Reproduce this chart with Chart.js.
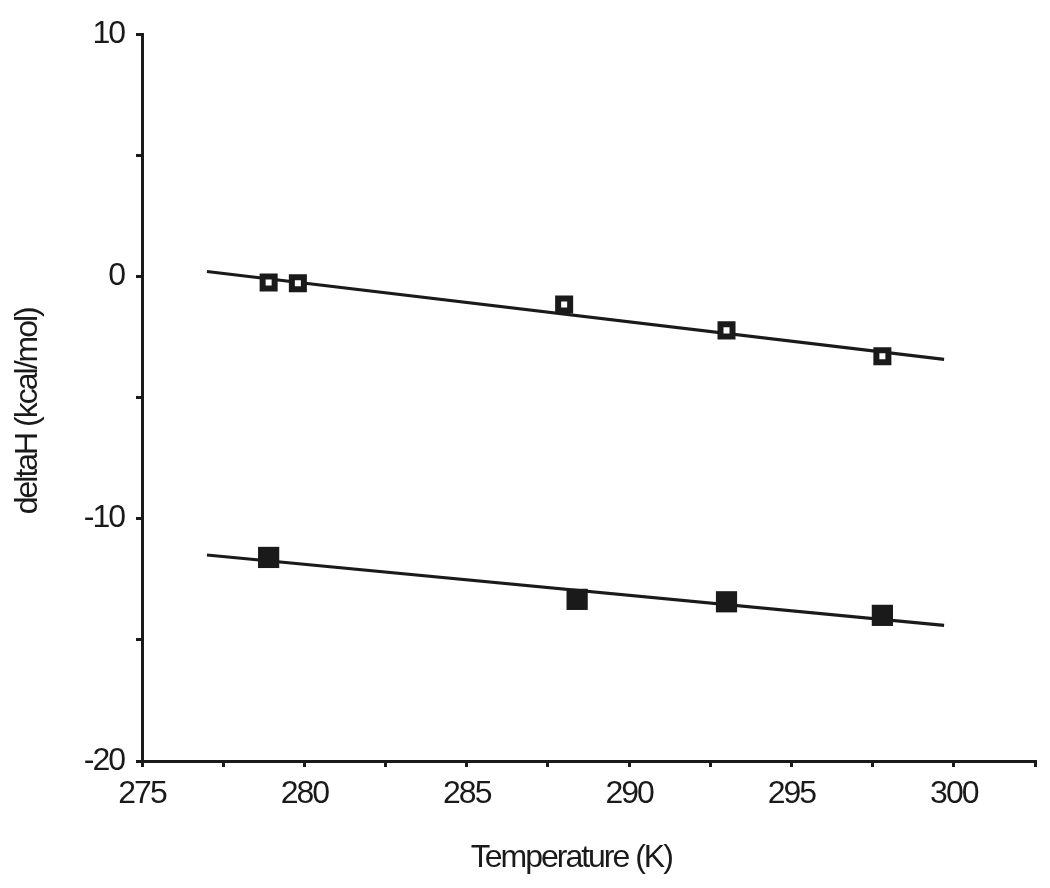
<!DOCTYPE html>
<html>
<head>
<meta charset="utf-8">
<script src="https://cdn.jsdelivr.net/npm/chart.js@4/dist/chart.umd.min.js"></script>
<style>
  html, body { margin: 0; padding: 0; background: #ffffff; }
  #wrap { width: 1050px; height: 888px; position: relative; }
</style>
</head>
<body>
<div id="wrap"><canvas id="c" width="1050" height="888"></canvas></div>
<script>
// ---- data ----
const openTemps = [278.9, 279.8, 288.0, 293.0, 297.8];
const openDeltaH = [-0.25, -0.29, -1.16, -2.23, -3.30];
const filledTemps = [278.9, 288.4, 293.0, 297.8];
const filledDeltaH = [-11.60, -13.33, -13.43, -13.99];
const fitTemps = [277.0, 299.7];
const fitOpenDeltaH = [0.2, -3.43];
const fitFilledDeltaH = [-11.5, -14.4];
const xMajorTicks = [275, 280, 285, 290, 295, 300];
const yMajorTicks = [-20, -10, 0, 10];
const xTitle = 'Temperature (K)';
const yTitle = 'deltaH (kcal/mol)';

const INK = '#1a1a1a';
const FONT = "'Liberation Sans', Arial, Helvetica, sans-serif";

function pts(xs, ys) { return xs.map((x, i) => ({x: x, y: ys[i]})); }

const spacingPlugin = {
  id: 'spacing',
  beforeDraw(chart) { chart.ctx.letterSpacing = '-2px'; }
};

new Chart(document.getElementById('c'), {
  type: 'scatter',
  data: {
    datasets: [
      {
        label: 'fit open',
        data: pts(fitTemps, fitOpenDeltaH),
        showLine: true, pointRadius: 0, borderColor: INK, borderWidth: 3.2,
        order: 2
      },
      {
        label: 'fit filled',
        data: pts(fitTemps, fitFilledDeltaH),
        showLine: true, pointRadius: 0, borderColor: INK, borderWidth: 3.2,
        order: 2
      },
      {
        label: 'open',
        data: pts(openTemps, openDeltaH),
        pointStyle: 'rect', pointRadius: 8.5, borderWidth: 6,
        borderColor: INK, backgroundColor: '#ffffff',
        order: 1
      },
      {
        label: 'filled',
        data: pts(filledTemps, filledDeltaH),
        pointStyle: 'rect', pointRadius: 15, borderWidth: 0,
        borderColor: INK, backgroundColor: INK,
        order: 1
      }
    ]
  },
  options: {
    responsive: false,
    animation: false,
    layout: { padding: { left: 0, top: 34, right: 13, bottom: 0 } },
    plugins: { legend: { display: false }, tooltip: { enabled: false } },
    scales: {
      x: {
        type: 'linear', min: 275, max: 302.5,
        afterFit(s) { s.height = 127; },
        ticks: {
          stepSize: 2.5, color: INK, padding: 8,
          font: { family: FONT, size: 32 },
          maxRotation: 0, autoSkip: false,
          callback: v => xMajorTicks.includes(v) ? String(v) : ''
        },
        grid: { display: true, drawOnChartArea: false, drawTicks: true, tickLength: 6, color: INK, lineWidth: 3 },
        border: { display: true, color: INK, width: 3 },
        title: {
          display: true, text: xTitle + '     ', color: INK,
          font: { family: FONT, size: 32 }, padding: { top: 0, bottom: 11 }
        }
      },
      y: {
        type: 'linear', min: -20, max: 10,
        afterFit(s) { s.width = 142; },
        ticks: {
          stepSize: 5, color: INK, padding: 12,
          font: { family: FONT, size: 32 },
          callback: v => yMajorTicks.includes(v) ? String(v) : ''
        },
        grid: { display: true, drawOnChartArea: false, drawTicks: true, tickLength: 6, color: INK, lineWidth: 3 },
        border: { display: true, color: INK, width: 3 },
        title: {
          display: true, text: yTitle + '    ', color: INK,
          font: { family: FONT, size: 32 }, padding: { top: 9, bottom: 0 }
        }
      }
    }
  },
  plugins: [spacingPlugin]
});
</script>
</body>
</html>
